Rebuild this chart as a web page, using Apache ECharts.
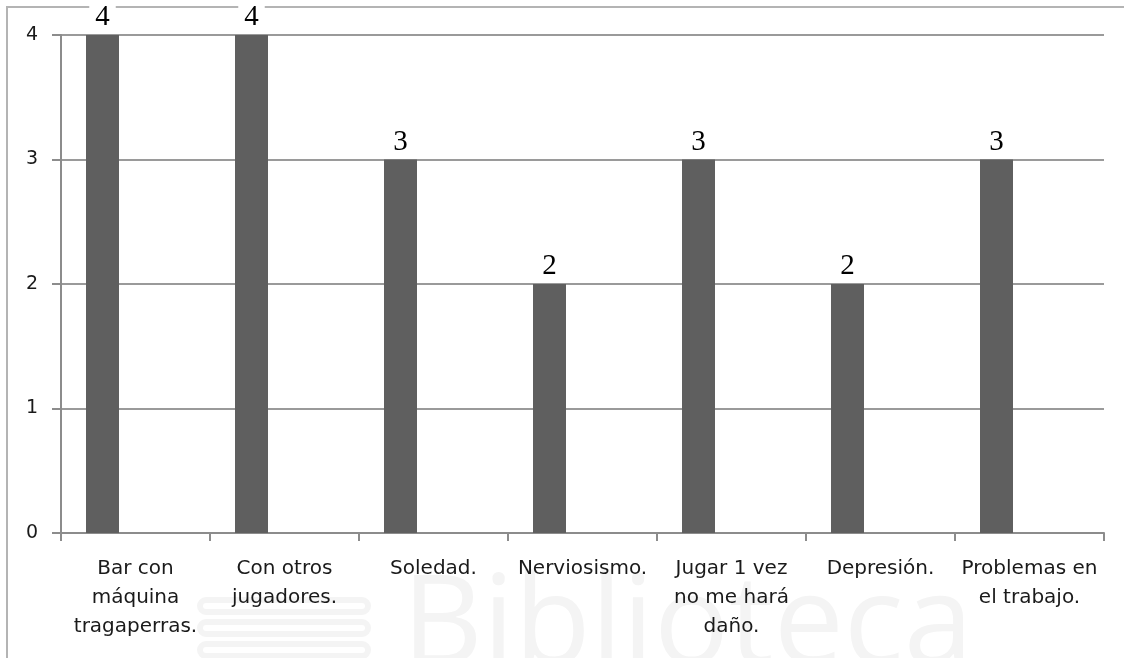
<!DOCTYPE html>
<html>
<head>
<meta charset="utf-8">
<script src="https://cdn.jsdelivr.net/npm/echarts@6/dist/echarts.min.js"></script>
<style>
  html, body { margin: 0; padding: 0; background: #fff; }
  #chart { width: 1124px; height: 658px; }
</style>
</head>
<body>
<div id="chart"></div>
<script>
// Motivos / situaciones y número de respuestas
const categories = [
  'Bar con\nmáquina\ntragaperras.',
  'Con otros\njugadores.',
  'Soledad.',
  'Nerviosismo.',
  'Jugar 1 vez\nno me hará\ndaño.',
  'Depresión.',
  'Problemas en\nel trabajo.'
];
const counts = [4, 4, 3, 2, 3, 2, 3];
const yTicks = [0, 1, 2, 3, 4];

const chart = echarts.init(document.getElementById('chart'), null, { renderer: 'canvas' });

chart.setOption({
  animation: false,
  backgroundColor: '#ffffff',
  graphic: [
    // faint library watermark
    {
      type: 'group', z: -10, silent: true,
      children: [
        { type: 'rect', shape: { x: 200, y: 600, width: 168, height: 12, r: 6 }, style: { fill: 'none', stroke: '#f4f4f4', lineWidth: 6 } },
        { type: 'rect', shape: { x: 200, y: 622, width: 168, height: 12, r: 6 }, style: { fill: 'none', stroke: '#f4f4f4', lineWidth: 6 } },
        { type: 'rect', shape: { x: 200, y: 644, width: 168, height: 12, r: 6 }, style: { fill: 'none', stroke: '#f4f4f4', lineWidth: 6 } },
        { type: 'text', left: 402, top: 566, style: { text: 'Biblioteca', font: '125px "Open Sans", sans-serif', fill: '#f4f4f4' } }
      ]
    },
    // outer frame (top and left edges)
    {
      type: 'polyline', z: 0, silent: true,
      shape: { points: [[7, 660], [7, 7], [1130, 7]] },
      style: { stroke: '#b4b4b4', lineWidth: 2, fill: 'none' }
    }
  ],
  grid: { left: 61, right: 20, top: 35, bottom: 125, containLabel: false },
  xAxis: {
    type: 'category',
    data: categories,
    axisLine: { lineStyle: { color: '#8c8c8c', width: 2 } },
    axisTick: { show: true, length: 8, lineStyle: { color: '#8c8c8c', width: 2 } },
    axisLabel: {
      interval: 0,
      margin: 21,
      color: '#1a1a1a',
      fontFamily: '"DejaVu Sans", sans-serif',
      fontSize: 20,
      lineHeight: 29,
      align: 'center'
    },
    splitLine: { show: false }
  },
  yAxis: {
    type: 'value',
    min: yTicks[0],
    max: yTicks[yTicks.length - 1],
    interval: 1,
    axisLine: { show: true, lineStyle: { color: '#8c8c8c', width: 2 } },
    axisTick: { show: true, length: 9, lineStyle: { color: '#8c8c8c', width: 2 } },
    axisLabel: {
      margin: 23,
      color: '#1a1a1a',
      fontFamily: '"DejaVu Sans", sans-serif',
      fontSize: 19
    },
    splitLine: { show: true, lineStyle: { color: '#9a9a9a', width: 2 } }
  },
  series: [
    {
      name: 'Respuestas',
      type: 'bar',
      data: counts,
      barWidth: 33,
      barGap: '100%',
      itemStyle: { color: '#5f5f5f' },
      label: {
        show: true,
        position: 'top',
        distance: 3,
        color: '#000',
        fontFamily: '"Liberation Serif", "Times New Roman", serif',
        fontSize: 29,
        backgroundColor: '#ffffff',
        padding: [0, 6, 0, 6]
      },
      z: 5
    },
    {
      name: 'vacío',
      type: 'bar',
      data: [],
      barWidth: 33
    }
  ]
});
</script>
</body>
</html>
